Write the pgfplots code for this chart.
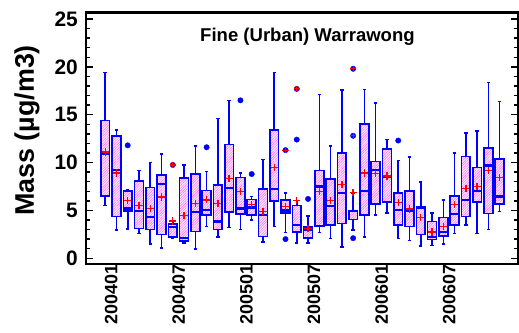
\documentclass[border=0pt]{standalone}
\usepackage{fontspec}
\setmainfont{Liberation Sans}
\usepackage{pgfplots}
\pgfplotsset{compat=1.18}
\usepgfplotslibrary{statistics}
\usetikzlibrary{patterns.meta}

\newcommand{\bx}[6]{\addplot[boxplot prepared={draw position=#1, lower whisker=#2, lower quartile=#3, median=#4, upper quartile=#5, upper whisker=#6}] coordinates {};}

\begin{document}
\begin{tikzpicture}
\begin{axis}[
  at={(0,0)}, anchor=south west,
  scale only axis, width=431.7bp, height=251.3bp,
  xmin=-1.7, xmax=36.6, ymin=-0.6, ymax=25.66,
  axis line style={line width=2.4bp},
  xtick={0,6,12,18,24,30},
  xticklabels={200401,200407,200501,200507,200601,200607},
  xtick style={draw=none},
  xticklabel style={rotate=90, anchor=east, font=\fontsize{18}{18}\selectfont\bfseries, inner sep=0pt, yshift=-6bp},
  ytick={0,5,10,15,20,25},
  minor y tick num=4,
  tick align=inside,
  major tick length=7bp, minor tick length=4bp,
  every tick/.style={black, line width=1.4bp},
  yticklabel style={font=\fontsize{21}{21}\selectfont\bfseries, inner sep=0pt, xshift=-8bp},
  /pgf/number format/assume math mode=true,
  boxplot/draw direction=y,
  boxplot/box extend=0.78,
  boxplot/whisker extend=0.3,
  boxplot/every box/.style={draw=blue, line width=1.6bp, fill=magenta!8, postaction={pattern={Lines[angle=45,distance=1.8bp,line width=0.45bp]}, pattern color=magenta!60}},
  boxplot/every whisker/.style={draw=blue, line width=1.6bp},
  boxplot/every median/.style={draw=blue, line width=2.2bp},
  clip=false,
]
\bx{0}{5.5}{6.5}{10.9}{14.4}{19.4}
\bx{1}{2.96}{4.35}{9.2}{12.8}{13.4}
\bx{2}{3.06}{4.95}{5.2}{7.05}{7.2}
\bx{3}{2.6}{3.1}{4.9}{8.05}{9.15}
\bx{4}{1.46}{3.0}{4.35}{7.4}{10.0}
\bx{5}{1.1}{2.5}{7.8}{8.7}{10.9}
\bx{6}{2.1}{2.25}{3.3}{3.6}{3.9}
\bx{7}{1.57}{1.8}{2.15}{8.36}{9.75}
\bx{8}{0.95}{2.8}{4.8}{8.8}{11.7}
\bx{9}{3.3}{4.5}{5.05}{7.1}{9.05}
\bx{10}{2.2}{3.0}{3.85}{7.65}{14.6}
\bx{11}{3.2}{4.85}{7.35}{11.9}{16.5}
\bx{12}{3.0}{4.65}{5.2}{8.45}{8.9}
\bx{13}{3.97}{4.5}{5.3}{6.15}{6.45}
\bx{14}{1.7}{2.26}{4.5}{7.25}{10.3}
\bx{15}{3.3}{6.0}{7.2}{13.4}{19.4}
\bx{16}{2.7}{4.7}{5.0}{6.1}{6.8}
\bx{17}{1.6}{2.75}{3.5}{5.5}{6.05}
\bx{18}{1.6}{2.1}{2.96}{3.27}{4.4}
\bx{19}{2.7}{3.4}{7.5}{9.15}{17.1}
\bx{20}{2.05}{3.45}{5.5}{8.3}{11.7}
\bx{21}{1.2}{3.65}{6.8}{11.0}{17.6}
\bx{22}{2.96}{4.07}{4.9}{5.0}{6.8}
\bx{23}{2.2}{4.5}{7.06}{14.0}{17.65}
\bx{24}{4.55}{5.67}{9.2}{10.1}{16.2}
\bx{25}{4.7}{5.85}{8.45}{11.4}{12.4}
\bx{26}{2.05}{3.45}{5.05}{6.8}{10.2}
\bx{27}{1.84}{3.3}{4.9}{7.0}{10.55}
\bx{28}{1.3}{2.47}{5.3}{5.36}{8.0}
\bx{29}{1.32}{1.98}{2.19}{3.83}{4.73}
\bx{30}{1.49}{2.33}{2.78}{4.25}{6.1}
\bx{31}{2.6}{3.45}{4.66}{6.5}{11.0}
\bx{32}{3.5}{4.35}{6.1}{10.65}{13.1}
\bx{33}{2.6}{5.85}{7.03}{9.5}{13.3}
\bx{34}{3.0}{4.66}{9.7}{11.5}{18.35}
\bx{35}{4.9}{5.67}{6.45}{10.4}{16.4}
% outliers
\addplot[only marks, mark=*, color=blue, mark size=2.7bp] coordinates {
(2,11.8) (6,9.75) (9,11.6) (12,16.5) (13,8.8) (16,11.3) (16,2.0)
(17,17.7) (17,12.4) (18,6.2) (22,19.8) (22,12.8) (22,2.1) (26,12.3)
};
% means
\addplot[only marks, mark=+, color=red, mark size=3.6bp, line width=1.3bp] coordinates {
(0,11.1) (1,8.9) (2,6.0) (3,5.5) (4,5.2) (5,6.4) (6,3.9) (7,4.45) (8,5.7) (9,6.1)
(10,5.7) (11,8.3) (12,6.95) (13,5.6) (14,4.9) (15,9.5) (16,5.4) (17,6.05) (18,3.1) (19,7.0)
(20,6.06) (21,7.7) (22,6.85) (23,8.9) (24,8.85) (25,8.6) (26,5.8) (27,5.15) (28,4.28) (29,2.75)
(30,3.34) (31,5.6) (32,7.3) (33,7.5) (34,9.2) (35,8.45)
};
% red crosses over some outliers
\addplot[only marks, mark=+, color=red, mark size=3.2bp, line width=1.2bp] coordinates {
(6,9.75) (16,11.3) (17,17.7) (22,19.8) (22,12.8)
};
\node[anchor=base, font=\fontsize{18.6}{18.6}\selectfont\bfseries] at (rel axis cs:0.513,0.885) {Fine (Urban) Warrawong};
\end{axis}
\node[rotate=90, anchor=base, font=\fontsize{27}{27}\selectfont\bfseries] at (-52bp,133.5bp) {Mass (µg/m3)};
\path (-86bp,-69bp) rectangle (433bp,264bp);
\end{tikzpicture}
\end{document}
